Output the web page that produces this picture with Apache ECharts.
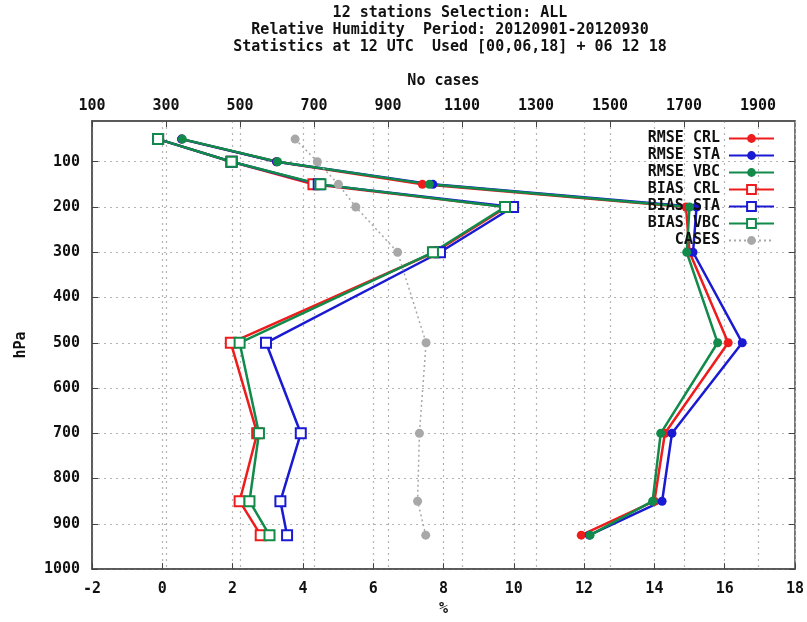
<!DOCTYPE html>
<html><head><meta charset="utf-8">
<script src="https://cdn.jsdelivr.net/npm/echarts@6/dist/echarts.min.js"></script>
<style>html,body{margin:0;padding:0;background:#fff}#c{width:807px;height:622px}</style>
</head><body><div id="c"></div>
<script>
const titleLines = ['12 stations Selection: ALL', 'Relative Humidity  Period: 20120901-20120930', 'Statistics at 12 UTC  Used [00,06,18] + 06 12 18'];
const levels  = [50, 100, 150, 200, 300, 500, 700, 850, 925];
const rmseCRL = [0.55, 3.25, 7.4, 14.9, 15.0, 16.1, 14.3, 14.0, 11.92];
const rmseSTA = [0.55, 3.25, 7.7, 15.2, 15.1, 16.5, 14.5, 14.22, 12.15];
const rmseVBC = [0.57, 3.28, 7.6, 15.0, 14.92, 15.8, 14.18, 13.95, 12.17];
const biasCRL = [-0.12, 1.97, 4.3, 9.8, 7.75, 1.95, 2.7, 2.2, 2.8];
const biasSTA = [-0.12, 1.97, 4.45, 9.98, 7.9, 2.95, 3.94, 3.36, 3.55];
const biasVBC = [-0.12, 1.97, 4.5, 9.75, 7.7, 2.2, 2.75, 2.48, 3.05];
const cases   = [649, 709, 766, 813, 926, 1003, 985, 980, 1002];
const xTicks  = [-2, 0, 2, 4, 6, 8, 10, 12, 14, 16, 18];
const x2Ticks = [100, 300, 500, 700, 900, 1100, 1300, 1500, 1700, 1900];
const yTicks  = [100, 200, 300, 400, 500, 600, 700, 800, 900, 1000];

const FONT = 'DejaVu Sans Mono';
const txt = {fontFamily: FONT, fontSize: 15, fontWeight: 'bold', color: '#111'};
const RED = '#ee1c1c', BLUE = '#1a1ad2', GREEN = '#118a4a', GRAY = '#a8a8a8';
const pairs = arr => arr.map((v, i) => [v, levels[i]]);
const plain = v => String(v);
const gridLine = {show: true, lineStyle: {color: '#b4b4b4', width: 1.2, type: [2, 4]}};
const tick = vals => ({show: true, inside: true, length: 6, customValues: vals, lineStyle: {color: '#444', width: 1}});
const frameLine = {show: true, onZero: false, lineStyle: {color: '#505050', width: 1.5}};

function rmse(name, data, color) {
  return {name, type: 'line', data: pairs(data), symbol: 'circle', symbolSize: 9,
    lineStyle: {color, width: 2.5}, itemStyle: {color}, xAxisIndex: 0, yAxisIndex: 0};
}
function bias(name, data, color) {
  return {name, type: 'line', data: pairs(data), symbol: 'emptyRect', symbolSize: 10,
    lineStyle: {color, width: 2.5}, itemStyle: {color, borderWidth: 2}, xAxisIndex: 0, yAxisIndex: 0};
}

const chart = echarts.init(document.getElementById('c'), null, {renderer: 'canvas'});
chart.setOption({
  animation: false,
  backgroundColor: '#fff',
  title: {text: titleLines.join('\n'), left: 445, top: 0, textAlign: 'center',
    textStyle: Object.assign({}, txt, {lineHeight: 17})},
  grid: {left: 92, right: 9, top: 121, bottom: 49, show: true, borderColor: '#505050', borderWidth: 1.5},
  legend: {orient: 'vertical', align: 'right', right: 27, top: 126, itemWidth: 45, itemHeight: 11, itemGap: 2,
    textStyle: Object.assign({}, txt, {lineHeight: 15, padding: [0, 4, 0, 0]}),
    data: ['RMSE CRL', 'RMSE STA', 'RMSE VBC', 'BIAS CRL', 'BIAS STA', 'BIAS VBC', 'CASES']},
  xAxis: [
    {type: 'value', position: 'bottom', min: -2, max: 18, interval: 2,
      name: '%', nameLocation: 'middle', nameGap: 32, nameTextStyle: txt,
      axisLine: frameLine,
      axisTick: tick(xTicks), axisLabel: Object.assign({margin: 13, customValues: xTicks, formatter: plain}, txt),
      splitLine: gridLine},
    {type: 'value', position: 'top', min: 100, max: 2000,
      name: 'No cases', nameLocation: 'middle', nameGap: 32, nameTextStyle: txt,
      axisLine: frameLine,
      axisTick: tick(x2Ticks), axisLabel: Object.assign({margin: 7, customValues: x2Ticks, formatter: plain}, txt),
      splitLine: gridLine}
  ],
  yAxis: [
    {type: 'value', position: 'left', inverse: true, min: 10, max: 1000,
      name: 'hPa', nameLocation: 'middle', nameGap: 63, nameTextStyle: txt,
      axisLine: frameLine,
      axisTick: tick(yTicks), axisLabel: Object.assign({margin: 12, customValues: yTicks, formatter: plain}, txt),
      splitLine: gridLine},
    {type: 'value', position: 'right', inverse: true, min: 10, max: 1000,
      axisLine: {show: false, onZero: false}, axisTick: tick(yTicks),
      axisLabel: {show: false, customValues: yTicks}, splitLine: {show: false}}
  ],
  series: [
    rmse('RMSE CRL', rmseCRL, RED),
    rmse('RMSE STA', rmseSTA, BLUE),
    rmse('RMSE VBC', rmseVBC, GREEN),
    bias('BIAS CRL', biasCRL, RED),
    bias('BIAS STA', biasSTA, BLUE),
    bias('BIAS VBC', biasVBC, GREEN),
    {name: 'CASES', type: 'line', data: pairs(cases), xAxisIndex: 1, yAxisIndex: 0,
      symbol: 'circle', symbolSize: 9, lineStyle: {color: GRAY, width: 1.5, type: [2, 3]},
      itemStyle: {color: GRAY}}
  ]
});
</script>
</body></html>
